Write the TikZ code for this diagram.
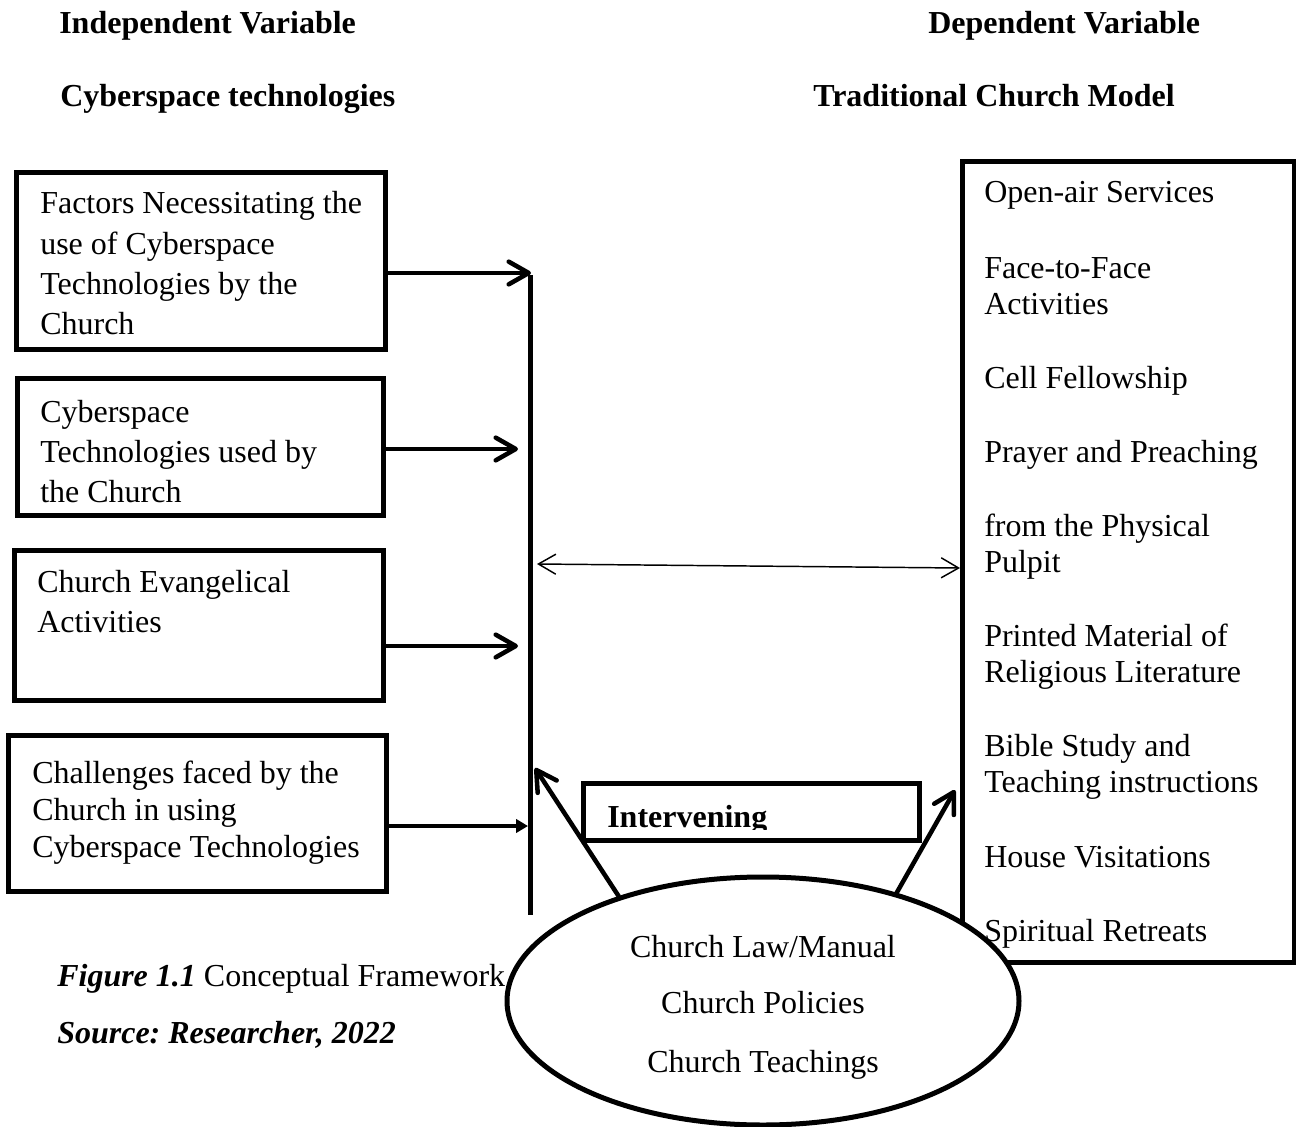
\documentclass[tikz,border=0pt]{standalone}
\usepackage{fontspec}
\setmainfont{Liberation Serif}
\usetikzlibrary{arrows.meta,shapes.geometric}
\frenchspacing
\begin{document}
\begin{tikzpicture}[x=0.75pt,y=-0.75pt,
  boxline/.style={draw, line width=3.75pt, rectangle, inner sep=0pt},
  txt/.style={anchor=base west, inner sep=0pt, font=\fontsize{24}{30}\selectfont},
  ctxt/.style={anchor=base, inner sep=0pt, font=\fontsize{24}{30}\selectfont},
  hdr/.style={anchor=base west, inner sep=0pt, font=\fontsize{24}{30}\selectfont\bfseries},
  bigarrow/.style={line width=3.4pt, line cap=round, -{Straight Barb[length=15pt,width=17pt,round]}},
  smallarrow/.style={line width=3.4pt, -{Triangle[length=9pt,width=10pt]}},
  thinarrow/.style={line width=1.1pt, {Straight Barb[length=13pt,width=15pt]}-{Straight Barb[length=13pt,width=15pt]}}
]
\useasboundingbox (0,0) rectangle (1296,1127);

% headers
\node[hdr] (h1) at (59,34) {Independent Variable};
\node[hdr] (h2) at (60,107) {Cyberspace technologies};
\node[hdr] (h3) at (928,34) {Dependent Variable};
\node[hdr] (h4) at (813,107) {Traditional Church Model};

% left boxes
\node[boxline, minimum width=276.75pt, minimum height=132pt] (b1) at (200.5,261) {};
\node[boxline, minimum width=274.5pt, minimum height=102.75pt] (b2) at (200,446.5) {};
\node[boxline, minimum width=276.75pt, minimum height=112.5pt] (b3) at (198.5,625) {};
\node[boxline, minimum width=283.5pt, minimum height=117pt] (b4) at (197,813) {};

\node[txt] (t11) at (40,214) {Factors Necessitating the};
\node[txt] (t12) at (40,254) {use of Cyberspace};
\node[txt] (t13) at (40,294) {Technologies by the};
\node[txt] (t14) at (40,334) {Church};

\node[txt] (t21) at (40,422) {Cyberspace};
\node[txt] (t22) at (40,462) {Technologies used by};
\node[txt] (t23) at (40,502) {the Church};

\node[txt] (t31) at (37,592) {Church Evangelical};
\node[txt] (t32) at (37,632) {Activities};

\node[txt] (t41) at (32,783) {Challenges faced by the};
\node[txt] (t42) at (32,820) {Church in using};
\node[txt] (t43) at (32,857) {Cyberspace Technologies};

% vertical bar
\coordinate (vtop) at (530,275);
\coordinate (vbot) at (530,915);
\draw[line width=3.75pt] (vtop) -- (vbot);

% arrows from boxes
\coordinate (a1) at (531,273);
\coordinate (a2) at (518,449);
\coordinate (a3) at (518,646);
\coordinate (a4) at (528,826);
\draw[bigarrow] (b1.east |- a1) -- (a1);
\draw[bigarrow] (b2.east |- a2) -- (a2);
\draw[bigarrow] (b3.east |- a3) -- (a3);
\draw[smallarrow] (b4.east |- a4) -- (a4);

% right box
\node[boxline, minimum width=249pt, minimum height=600pt] (rb) at (1128,562) {};

% double arrow
\coordinate (d1) at (537,564);
\coordinate (d2) at (960,568);
\draw[thinarrow] (d1) -- (d2);

% intervening box
\node[boxline, minimum width=252pt, minimum height=42.75pt] (ib) at (751,811.5) {};
\begin{scope}
  \clip (585,785) rectangle (917,829);
  \node[hdr] (it) at (607,827) {Intervening};
\end{scope}

% ellipse
\node[ellipse, draw, fill=white, line width=3.75pt, minimum width=384pt, minimum height=186pt, inner sep=0pt] (ell) at (763,1001) {};
\node[ctxt] (e1) at (763,957) {Church Law/Manual};
\node[ctxt] (e2) at (763,1013) {Church Policies};
\node[ctxt] (e3) at (763,1072) {Church Teachings};

\coordinate (la) at (535,768);
\coordinate (ra) at (955,790);
\draw[bigarrow] (ell.144.5) -- (la);
\draw[bigarrow] (ell.39.5) -- (ra);

% right box text
\node[txt] (r1) at (984,203) {Open-air Services};
\node[txt] (r2) at (984,278) {Face-to-Face};
\node[txt] (r3) at (984,314) {Activities};
\node[txt] (r4) at (984,388) {Cell Fellowship};
\node[txt] (r5) at (984,462) {Prayer and Preaching};
\node[txt] (r6) at (984,536) {from the Physical};
\node[txt] (r7) at (984,572) {Pulpit};
\node[txt] (r8) at (984,646) {Printed Material of};
\node[txt] (r9) at (984,682) {Religious Literature};
\node[txt] (r10) at (984,756) {Bible Study and};
\node[txt] (r11) at (984,792) {Teaching instructions};
\node[txt] (r12) at (984,867) {House Visitations};
\node[txt] (r13) at (984,941) {Spiritual Retreats};

% caption
\node[txt] (cap) at (57,986) {\textbf{\textit{Figure 1.1}} Conceptual Framework};
\node[txt] (src) at (57,1043) {\textbf{\textit{Source: Researcher, 2022}}};
\end{tikzpicture}
\end{document}
